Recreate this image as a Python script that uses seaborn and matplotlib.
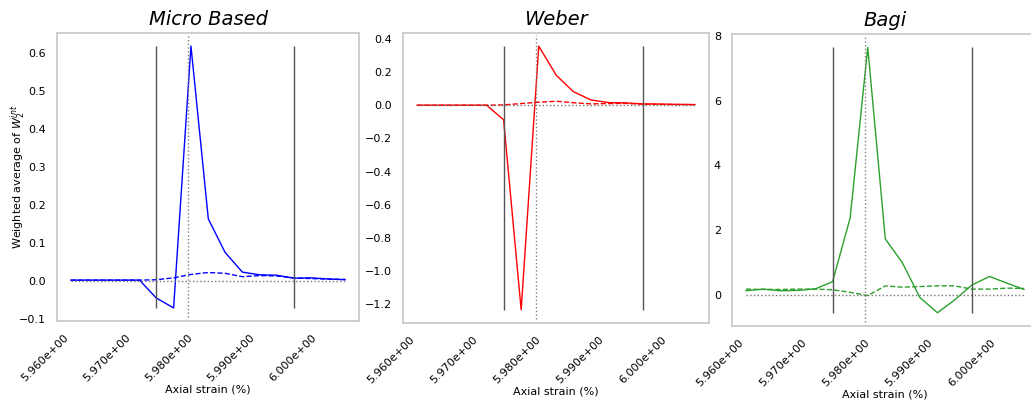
import matplotlib
matplotlib.use("Agg")
import numpy as np
import pandas as pd
import seaborn as sns
import matplotlib.ticker as mticker
import matplotlib.pyplot as plt

sns.set_theme(style="whitegrid")
plt.rcParams.update({"text.color": "black", "axes.labelcolor": "black",
                     "xtick.color": "black", "ytick.color": "black"})

# axial strain (%) of each saved step
strain = [5.9600, 5.9628, 5.9655, 5.9683, 5.9711, 5.9738, 5.9766, 5.9794, 5.9822,
          5.9849, 5.9877, 5.9905, 5.9932, 5.9960, 5.9988, 6.0015, 6.0043]

micro_solid = [0.002, 0.002, 0.002, 0.002, 0.002, -0.045, -0.071, 0.617, 0.163,
               0.075, 0.023, 0.016, 0.015, 0.007, 0.008, 0.005, 0.003]
micro_dash = [0.002, 0.002, 0.002, 0.002, 0.002, 0.003, 0.008, 0.017, 0.022,
              0.020, 0.011, 0.014, 0.013, 0.008, 0.006, 0.005, 0.004]

weber_solid = [0.0, 0.0, 0.0, 0.0, 0.0, -0.088, -1.234, 0.356, 0.180,
               0.082, 0.032, 0.016, 0.014, 0.008, 0.007, 0.005, 0.004]
weber_dash = [0.0, 0.0, 0.0, 0.0, 0.0, 0.002, 0.010, 0.018, 0.024,
              0.015, 0.008, 0.010, 0.011, 0.006, 0.005, 0.004, 0.003]

bagi_solid = [0.13, 0.18, 0.13, 0.14, 0.19, 0.41, 2.38, 7.65, 1.73,
              1.00, -0.08, -0.55, -0.16, 0.31, 0.57, 0.37, 0.17]
bagi_dash = [0.18, 0.17, 0.17, 0.18, 0.18, 0.16, 0.08, -0.02, 0.28,
             0.24, 0.26, 0.28, 0.28, 0.18, 0.18, 0.21, 0.20]

titles = ["Micro Based", "Weber", "Bagi"]
colors = ["#0000ff", "#ff0000", "#2ca02c"]
solids = [micro_solid, weber_solid, bagi_solid]
dashes = [micro_dash, weber_dash, bagi_dash]

window = [5.9738, 5.9960]   # solid black markers
event = 5.979               # dotted marker

fig = plt.figure(figsize=(10.31, 4.01), dpi=100)
boxes = [[0.0553, 0.1995, 0.2929, 0.7182],
         [0.3909, 0.1945, 0.2968, 0.7232],
         [0.7100, 0.1870, 0.2968, 0.7280]]

for i in range(3):
    ax = fig.add_axes(boxes[i])
    df = pd.DataFrame({"strain": strain, "solid": solids[i], "dash": dashes[i]})
    sns.lineplot(data=df, x="strain", y="solid", ax=ax, color=colors[i], lw=1)
    sns.lineplot(data=df, x="strain", y="dash", ax=ax, color=colors[i], lw=1,
                 linestyle="--")
    ax.hlines(0, strain[0], strain[-1], colors="0.45", linestyles=":", lw=1)
    ax.vlines(window, min(solids[i]), max(solids[i]), colors="#555555", lw=1)
    ax.axvline(event, ymin=0.015, ymax=0.993, color="0.5", ls=":", lw=1)

    ax.grid(False)
    for s in ax.spines.values():
        s.set_color("#c8c8c8")
    ax.set_title(titles[i], fontsize=14, style="italic")
    ax.xaxis.set_major_locator(mticker.MultipleLocator(0.01))
    ax.xaxis.set_major_formatter(mticker.FormatStrFormatter("%.3e"))
    ax.tick_params(axis="both", labelsize=8, pad=2)
    plt.setp(ax.get_xticklabels(), rotation=45, ha="right")
    ax.set_xlabel("Axial strain (%)", fontsize=8, labelpad=1)
    if i == 0:
        ax.set_ylabel("Weighted average of $W_2^{int}$", fontsize=8)
        ax.yaxis.set_label_coords(-0.097, 0.5)
    else:
        ax.set_ylabel("")

fig.savefig("out.png", dpi=100)
